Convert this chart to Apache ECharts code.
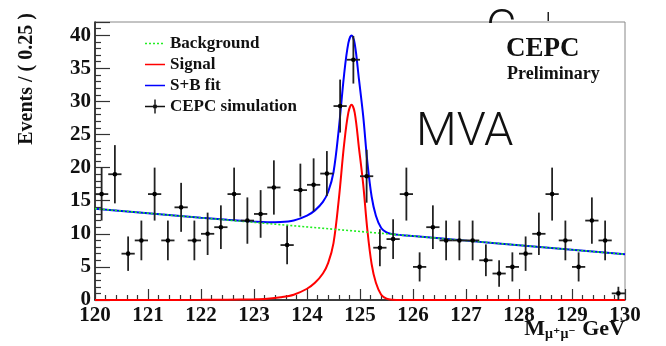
<!DOCTYPE html>
<html>
<head>
<meta charset="utf-8">
<script src="https://cdn.jsdelivr.net/npm/echarts@6/dist/echarts.min.js"></script>
<style>
  html, body { margin: 0; padding: 0; background: #fff; }
  #chart { width: 666px; height: 346px; }
</style>
</head>
<body>
<div id="chart"></div>
<script>
// dimuon mass histogram, 0.25 GeV bins
const binCenters = [120.125, 120.375, 120.625, 120.875, 121.125, 121.375, 121.625, 121.875,
  122.125, 122.375, 122.625, 122.875, 123.125, 123.375, 123.625, 123.875,
  124.125, 124.375, 124.625, 124.875, 125.125, 125.375, 125.625, 125.875,
  126.125, 126.375, 126.625, 126.875, 127.125, 127.375, 127.625, 127.875,
  128.125, 128.375, 128.625, 128.875, 129.125, 129.375, 129.625, 129.875];
const counts = [16, 19, 7, 9, 16, 9, 14, 9, 10, 11, 16, 12, 13, 17, 8.3, 16.6,
  17.4, 19.1, 29.3, 36.3, 18.7, 7.9, 9.2, 16, 5, 11, 9, 9, 9, 6, 4, 5,
  7, 10, 16, 9, 5, 12, 9, 1];
const errors = [4.0, 4.4, 2.6, 3.0, 4.0, 3.0, 3.7, 3.0, 3.2, 3.3, 4.0, 3.5, 3.6, 4.1, 2.9, 4.0,
  4.0, 3.4, 4.0, 3.6, 4.0, 2.8, 3.0, 4.0, 2.2, 3.3, 3.0, 3.0, 3.0, 2.4, 2.0, 2.2,
  2.6, 3.2, 4.0, 3.0, 2.2, 3.5, 3.0, 1.0];
const halfBin = 0.125;

// fitted curves
const curveX = [120, 121, 122, 122.5, 123, 123.25, 123.5, 123.75, 124, 124.15, 124.3, 124.4,
  124.5, 124.6, 124.7, 124.78, 124.84, 124.9, 124.98, 125.06, 125.14, 125.22, 125.3,
  125.4, 125.5, 125.6, 125.8, 126, 127, 128, 129, 130];
const signal = [0, 0, 0.02, 0.05, 0.12, 0.2, 0.4, 0.8, 1.7, 2.6, 4.0, 5.6,
  8.6, 15.2, 23.5, 28.3, 29.5, 28.3, 23, 17.5, 10.5, 5.4, 2.6,
  0.8, 0.2, 0.04, 0, 0, 0, 0, 0, 0];
const fitSB = [13.8, 13.11, 12.44, 12.13, 11.85, 11.76, 11.79, 12.01, 12.74, 13.54, 14.83, 16.36,
  19.3, 25.83, 34.06, 38.8, 39.96, 38.72, 33.36, 27.81, 20.75, 15.6, 12.74,
  10.87, 10.21, 9.98, 9.8, 9.66, 8.97, 8.28, 7.59, 6.9];
const bgX = [120, 130];
const background = [13.8, 6.9];

const serif = '"Liberation Serif", "DejaVu Serif", serif';

// legend icons: thin bars inside a 20x14 box (corner specks keep the box size)
const box = 'M0,0h0.01v0.01h-0.01z M19.99,13.99h0.01v0.01h-0.01z ';
const lineIcon = 'path://' + box + 'M0,6.3h20v1.4h-20z';
const dotIcon = 'path://' + box + 'M0,6.3h2v1.4h-2z M4,6.3h2v1.4h-2z M8,6.3h2v1.4h-2z M12,6.3h2v1.4h-2z M16,6.3h2v1.4h-2z';
const crossIcon = 'path://' + box + 'M0,6.3h20v1.4h-20z M9.3,0h1.4v14h-1.4z M8.2,5.2h3.6v3.6h-3.6z';

const chart = echarts.init(document.getElementById('chart'), null, { renderer: 'canvas' });

const zip = (xs, ys) => xs.map((x, i) => [x, ys[i]]);

chart.setOption({
  animation: false,
  backgroundColor: '#fff',
  grid: { left: 95, right: 41, top: 22, bottom: 46, show: true, borderColor: '#888', borderWidth: 1 },
  legend: {
    orient: 'vertical',
    left: 140,
    top: 30,
    itemWidth: 20,
    itemHeight: 14,
    itemGap: 4,
    textStyle: { fontFamily: serif, fontWeight: 'bold', fontSize: 17, color: '#111' },
    data: [
      { name: 'Background', icon: dotIcon },
      { name: 'Signal', icon: lineIcon },
      { name: 'S+B fit', icon: lineIcon },
      { name: 'CEPC simulation', icon: crossIcon }
    ]
  },
  xAxis: {
    type: 'value',
    min: 120,
    max: 130,
    interval: 1,
    splitLine: { show: false },
    axisLine: { onZero: false, lineStyle: { color: '#111', width: 1.5 } },
    axisTick: { inside: true, length: 11, lineStyle: { color: '#333', width: 1.2 } },
    minorTick: { show: true, splitNumber: 5, length: 5, lineStyle: { color: '#333', width: 1.2 } },
    axisLabel: { margin: 5, fontFamily: serif, fontWeight: 'bold', fontSize: 21, color: '#111' }
  },
  yAxis: {
    type: 'value',
    min: 0,
    max: 42,
    interval: 5,
    splitLine: { show: false },
    axisLine: { show: true, lineStyle: { color: '#111', width: 1.5 } },
    axisTick: { inside: true, length: 15, lineStyle: { color: '#333', width: 1.2 } },
    minorTick: { show: true, splitNumber: 5, length: 6, lineStyle: { color: '#333', width: 1.2 } },
    axisLabel: {
      margin: 4, fontFamily: serif, fontWeight: 'bold', fontSize: 21, color: '#111',
      showMaxLabel: false,
      formatter: (v) => (v % 5 === 0 ? String(v) : '')
    }
  },
  graphic: [
    { type: 'text', left: 486, top: 7, z: 0, style: { text: 'C', font: '300 47px Roboto', fill: '#111' } },
    { type: 'rect', left: 480, top: 23, z: 1, shape: { width: 100, height: 24 }, style: { fill: '#fff' } },
    { type: 'rect', left: 547.5, top: 12, z: 0, shape: { width: 1.5, height: 9 }, style: { fill: '#222' } },
    { type: 'text', left: 506, top: 36, z: 5, style: { text: 'CEPC', font: 'bold 27px ' + serif, fill: '#111' } },
    { type: 'text', left: 507, top: 65, z: 5, style: { text: 'Preliminary', font: 'bold 18px ' + serif, fill: '#111' } },
    { type: 'text', left: 416, top: 110, z: 5, style: { text: 'MVA', font: '300 47px Roboto', fill: '#111' } },
    {
      type: 'text', x: 27, y: 79, rotation: Math.PI / 2, z: 5,
      style: { text: 'Events / ( 0.25 )', font: 'bold 20px ' + serif, fill: '#111', align: 'center', verticalAlign: 'middle' }
    },
    {
      type: 'text', right: 41, top: 318, z: 5,
      style: {
        text: '{m|M}{s|μ⁺μ⁻}{g| GeV}',
        rich: {
          m: { font: 'bold 22px ' + serif, fill: '#111' },
          s: { font: 'bold 14px ' + serif, fill: '#111', padding: [10, 1, 0, 0] },
          g: { font: 'bold 22px ' + serif, fill: '#111' }
        }
      }
    }
  ],
  series: [
    {
      name: 'S+B fit',
      type: 'line',
      data: zip(curveX, fitSB),
      symbol: 'none',
      smooth: 0.35,
      lineStyle: { color: '#0000ff', width: 2 },
      itemStyle: { color: '#0000ff' },
      z: 3
    },
    {
      name: 'Signal',
      type: 'line',
      data: zip(curveX, signal),
      symbol: 'none',
      smooth: 0.35,
      lineStyle: { color: '#ff0000', width: 2 },
      itemStyle: { color: '#ff0000' },
      z: 3
    },
    {
      name: 'Background',
      type: 'line',
      data: zip(bgX, background),
      symbol: 'none',
      lineStyle: { color: '#22ee22', width: 1.6, type: [2, 2] },
      itemStyle: { color: '#22ee22' },
      z: 4
    },
    {
      name: 'CEPC simulation',
      type: 'custom',
      data: binCenters.map((x, i) => [x, counts[i], errors[i]]),
      itemStyle: { color: '#111' },
      z: 5,
      renderItem: (params, api) => {
        const x = api.value(0);
        const y = api.value(1);
        const e = api.value(2);
        const c = api.coord([x, y]);
        const l = api.coord([x - halfBin, y]);
        const r = api.coord([x + halfBin, y]);
        const t = api.coord([x, y + e]);
        const b = api.coord([x, Math.max(0, y - e)]);
        const st = { stroke: '#222', lineWidth: 1.8 };
        return {
          type: 'group',
          children: [
            { type: 'line', shape: { x1: l[0], y1: l[1], x2: r[0], y2: r[1] }, style: st },
            { type: 'line', shape: { x1: t[0], y1: t[1], x2: b[0], y2: b[1] }, style: st },
            { type: 'circle', shape: { cx: c[0], cy: c[1], r: 2.3 }, style: { fill: '#000' } }
          ]
        };
      }
    }
  ]
});
</script>
</body>
</html>
